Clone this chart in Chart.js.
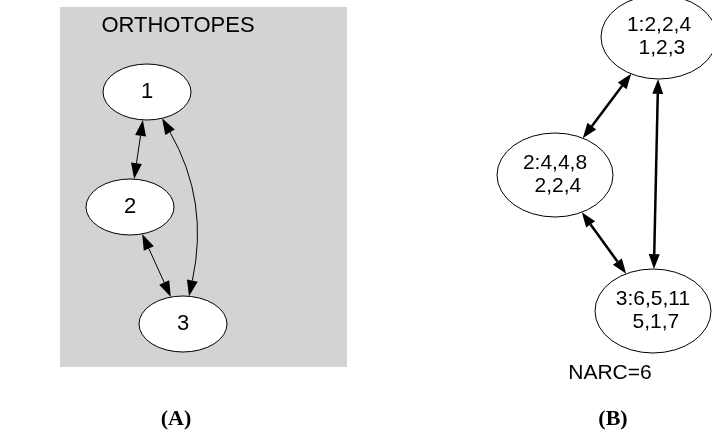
<!DOCTYPE html>
<html>
<head>
<meta charset="utf-8">
<title>Orthotopes graph</title>
<script src="https://cdn.jsdelivr.net/npm/chart.js@4.4.0/dist/chart.umd.min.js"></script>
<style>
  html, body { margin: 0; padding: 0; background: #fff; }
  #wrap { width: 712px; height: 436px; }
</style>
</head>
<body>
<div id="wrap"><canvas id="graphChart" width="712" height="436"></canvas></div>
<script>
// graph A : orthotopes (node positions in axis units)
const nodesA = ['1', '2', '3'];
const nodeAX = [147, 130, 183];
const nodeAY = [92, 207, 324];
const edgesA = [[0, 1], [1, 2], [0, 2]];
const curvedA = [false, false, true];

// graph B : sizes / origins of each orthotope
const nodeBName = ['1', '2', '3'];
const nodeBSizes = ['2,2,4', '4,4,8', '6,5,11'];
const nodeBOrigins = ['1,2,3', '2,2,4', '5,1,7'];
const nodeBX = [659, 555, 653];
const nodeBY = [37, 175, 311];
const edgesB = [[0, 1], [1, 2], [0, 2]];
const narc = 6;

const clusterTitle = 'ORTHOTOPES';
const panelLabels = ['(A)', '(B)'];

// where the extra texts / box sit, in axis units
const clusterBox = { x0: 60, x1: 347, y0: 7, y1: 367 };
const titlePos = { x: 178, y: 26 };
const narcPos = { x: 610, y: 373 };
const panelPos = [{ x: 176, y: 419 }, { x: 613, y: 419 }];

const sans = '"Liberation Sans", Arial, sans-serif';

function boundary(cx, cy, tx, ty, rx, ry) {
    let dx = tx - cx, dy = ty - cy;
    let t = 1 / Math.sqrt((dx / rx) ** 2 + (dy / ry) ** 2);
    return { x: cx + dx * t, y: cy + dy * t };
}

// filled arrow head, returns the base point so the line can stop there
function arrowHead(ctx, tip, from, len, w) {
    let dx = tip.x - from.x, dy = tip.y - from.y;
    let d = Math.hypot(dx, dy);
    let ux = dx / d, uy = dy / d;
    let bx = tip.x - ux * len, by = tip.y - uy * len;
    ctx.beginPath();
    ctx.moveTo(tip.x, tip.y);
    ctx.lineTo(bx - uy * w / 2, by + ux * w / 2);
    ctx.lineTo(bx + uy * w / 2, by - ux * w / 2);
    ctx.closePath();
    ctx.fill();
    return { x: bx, y: by };
}

function drawEdge(ctx, a, b, r, style, bend) {
    ctx.save();
    ctx.strokeStyle = '#000';
    ctx.fillStyle = '#000';
    ctx.lineWidth = style.width;
    if (!bend) {
        let p0 = boundary(a.x, a.y, b.x, b.y, r.rx, r.ry);
        let p1 = boundary(b.x, b.y, a.x, a.y, r.rx, r.ry);
        let b0 = arrowHead(ctx, p0, p1, style.len, style.head);
        let b1 = arrowHead(ctx, p1, p0, style.len, style.head);
        ctx.beginPath();
        ctx.moveTo(b0.x, b0.y);
        ctx.lineTo(b1.x, b1.y);
        ctx.stroke();
    } else {
        // control point pushed sideways off the a -> b line
        let mx = (a.x + b.x) / 2, my = (a.y + b.y) / 2;
        let dx = b.x - a.x, dy = b.y - a.y;
        let d = Math.hypot(dx, dy);
        let c = { x: mx + dy / d * bend, y: my - dx / d * bend };
        let p0 = boundary(a.x, a.y, c.x, c.y, r.rx, r.ry);
        let p1 = boundary(b.x, b.y, c.x, c.y, r.rx, r.ry);
        let b0 = arrowHead(ctx, p0, c, style.len, style.head);
        let b1 = arrowHead(ctx, p1, c, style.len, style.head);
        ctx.beginPath();
        ctx.moveTo(b0.x, b0.y);
        ctx.quadraticCurveTo(c.x, c.y, b1.x, b1.y);
        ctx.stroke();
    }
    ctx.restore();
}

function drawNode(ctx, p, r, lines, font, lineGap) {
    ctx.save();
    ctx.beginPath();
    ctx.ellipse(p.x, p.y, r.rx, r.ry, 0, 0, Math.PI * 2);
    ctx.fillStyle = '#fff';
    ctx.fill();
    ctx.lineWidth = 1;
    ctx.strokeStyle = '#000';
    ctx.stroke();
    ctx.fillStyle = '#000';
    ctx.font = font;
    ctx.textAlign = 'center';
    ctx.textBaseline = 'middle';
    let top = p.y - (lines.length - 1) * lineGap / 2;
    lines.forEach((l, i) => ctx.fillText(l, p.x, top + i * lineGap));
    ctx.restore();
}

const graphPlugin = {
    id: 'graphPlugin',
    beforeDatasetsDraw(chart) {
        const { ctx, scales: { x, y } } = chart;
        ctx.save();
        ctx.fillStyle = '#d3d3d3';
        let left = x.getPixelForValue(clusterBox.x0);
        let top = y.getPixelForValue(clusterBox.y0);
        ctx.fillRect(left, top,
            x.getPixelForValue(clusterBox.x1) - left,
            y.getPixelForValue(clusterBox.y1) - top);
        ctx.fillStyle = '#000';
        ctx.textAlign = 'center';
        ctx.textBaseline = 'middle';
        ctx.font = '22px ' + sans;
        ctx.fillText(clusterTitle, x.getPixelForValue(titlePos.x), y.getPixelForValue(titlePos.y));
        ctx.font = '21px ' + sans;
        ctx.fillText('NARC=' + narc, x.getPixelForValue(narcPos.x), y.getPixelForValue(narcPos.y));
        ctx.font = 'bold 22px "Liberation Serif", "Times New Roman", serif';
        panelLabels.forEach((t, i) => {
            ctx.fillText(t, x.getPixelForValue(panelPos[i].x), y.getPixelForValue(panelPos[i].y));
        });
        ctx.restore();
    },
    afterDatasetsDraw(chart) {
        const ctx = chart.ctx;
        let ptsA = chart.getDatasetMeta(0).data;
        let ptsB = chart.getDatasetMeta(1).data;
        let rA = { rx: 44, ry: 28 };
        let rB = { rx: 58, ry: 42 };

        edgesA.forEach((e, i) => {
            drawEdge(ctx, ptsA[e[0]], ptsA[e[1]], rA,
                { width: 1, len: 16, head: 11 }, curvedA[i] ? 45 : 0);
        });
        edgesB.forEach(e => {
            drawEdge(ctx, ptsB[e[0]], ptsB[e[1]], rB,
                { width: 2.5, len: 15, head: 11 }, 0);
        });

        nodesA.forEach((n, i) => drawNode(ctx, ptsA[i], rA, [n], '22px ' + sans, 0));
        nodeBName.forEach((n, i) => {
            drawNode(ctx, ptsB[i], rB,
                [n + ':' + nodeBSizes[i], ' ' + nodeBOrigins[i]], '21px ' + sans, 23);
        });
    }
};

let chart = new Chart(document.getElementById('graphChart').getContext('2d'), {
    type: 'scatter',
    data: {
        datasets: [
            {
                label: 'A',
                data: nodesA.map((n, i) => ({ x: nodeAX[i], y: nodeAY[i] })),
                pointRadius: 0
            },
            {
                label: 'B',
                data: nodeBName.map((n, i) => ({ x: nodeBX[i], y: nodeBY[i] })),
                pointRadius: 0
            }
        ]
    },
    options: {
        responsive: false,
        animation: false,
        layout: { padding: 0 },
        plugins: {
            legend: { display: false },
            tooltip: { enabled: false }
        },
        scales: {
            x: { type: 'linear', min: 0, max: 712, display: false },
            y: { type: 'linear', min: 0, max: 436, reverse: true, display: false }
        }
    },
    plugins: [graphPlugin]
});
</script>
</body>
</html>
